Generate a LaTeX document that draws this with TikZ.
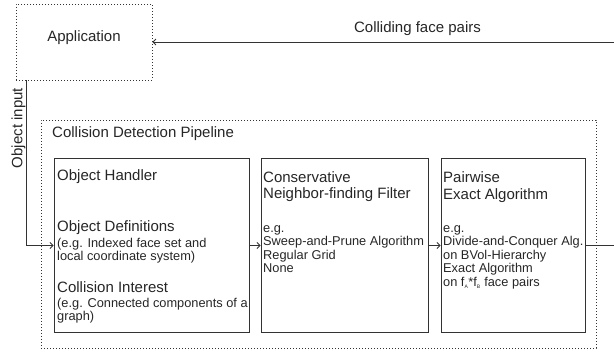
\documentclass[tikz,border=0pt]{standalone}
\usepackage{fontspec}
\setmainfont{Liberation Sans}
\usetikzlibrary{arrows.meta}

\newcommand{\bigtxt}{\fontsize{15}{16.5}\selectfont}
\newcommand{\smalltxt}{\fontsize{12.8}{13.5}\selectfont}

\tikzset{
  ink/.style={black!80, line width=0.8pt},
  dotbox/.style={draw=black!80, line width=0.8pt, dash pattern=on 0.9pt off 2.1pt},
  stagebox/.style={draw=black!80, line width=0.9pt, minimum height=174pt, inner sep=0pt},
  flow/.style={ink, -{Straight Barb[length=3pt,width=6pt]}},
  txt/.style={anchor=base west, inner sep=0pt, text=black!85},
  sml/.style={txt, font=\smalltxt},
}

\begin{document}
\begin{tikzpicture}[x=1pt, y=-1pt, font=\bigtxt]
\useasboundingbox (0,0) rectangle (614,352);

% Application and the pipeline frame
\node[dotbox, minimum width=136pt, minimum height=76pt, inner sep=0pt] (app) at (84,42) {};
\node[text=black!85] (applbl) at (84,38) {Application};
\node[dotbox, minimum width=555pt, minimum height=228pt] (pipe) at (318.5,234) {};
\node[txt] (pipelbl) at (52,138) {Collision Detection Pipeline};

% Pipeline stages
\node[stagebox, minimum width=195pt] (oh)  at (151.5,245.5) {};
\node[stagebox, minimum width=167pt] (cnf) at (344.5,245.5) {};
\node[stagebox, minimum width=144pt] (pea) at (513,245.5) {};

% Stage 1: object handler
\node[txt] (oh1) at (57,181) {Object Handler};
\node[txt] (oh2) at (57,232) {Object Definitions};
\node[sml] (oh3) at (57,247.5) {(e.g. Indexed face set and};
\node[sml] (oh4) at (57,261) {local coordinate system)};
\node[txt] (oh5) at (57,293) {Collision Interest};
\node[sml] (oh6) at (57,307.5) {(e.g. Connected components of a};
\node[sml] (oh7) at (57,321) {graph)};

% Stage 2: neighbor-finding filter
\node[txt] (cnf1) at (263,182.5) {Conservative};
\node[txt] (cnf2) at (263,199) {Neighbor-finding Filter};
\node[sml] (cnf3) at (263,232.5) {e.g.};
\node[sml] (cnf4) at (263,246) {Sweep-and-Prune Algorithm};
\node[sml] (cnf5) at (263,259.5) {Regular Grid};
\node[sml] (cnf6) at (263,273) {None};

% Stage 3: exact algorithm
\node[txt] (pea1) at (443,183) {Pairwise};
\node[txt] (pea2) at (443,199.5) {Exact Algorithm};
\node[sml] (pea3) at (443,232.5) {e.g.};
\node[sml] (pea4) at (443,246) {Divide-and-Conquer Alg.};
\node[sml] (pea5) at (443,259.5) {on BVol-Hierarchy};
\node[sml] (pea6) at (443,273) {Exact Algorithm};
\node[sml] (pea7) at (443,286.5) {on f\textsubscript{\tiny A}*f\textsubscript{\tiny B} face pairs};

% Connectors
\coordinate (outR) at (614,245.5);
\coordinate (inR) at (614,42);
\draw[flow] ([xshift=11pt]app.south west) |- (oh.west);
\node[rotate=90, text=black!85] (objin) at (18.5,128) {Object input};
\draw[flow] (oh.east) -- (cnf.west);
\draw[flow] (cnf.east) -- (pea.west);
\draw[ink] (pea.east) -- (outR);
\draw[flow] (inR) -- (app.east);
\node[text=black!85] (cfp) at (417.5,29) {Colliding face pairs};
\end{tikzpicture}
\end{document}
